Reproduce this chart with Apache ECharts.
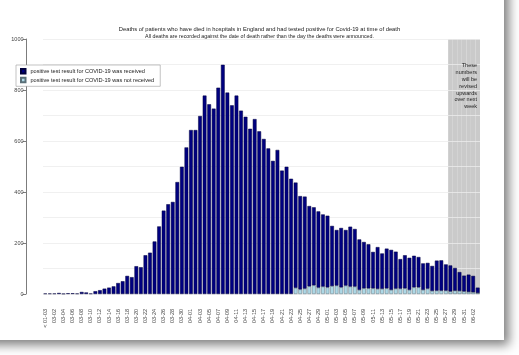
<!DOCTYPE html>
<html>
<head>
<meta charset="utf-8">
<script src="https://cdn.jsdelivr.net/npm/echarts@6/dist/echarts.min.js"></script>
<style>
html,body{margin:0;padding:0;background:#fff;}
#chart{width:519px;height:355px;}
</style>
</head>
<body>
<div id="chart"></div>
<script>
const titleText = 'Deaths of patients who have died in hospitals in England and had tested positive for Covid-19 at time of death';
const subtitleText = 'All deaths are recorded against the date of death rather than the day the deaths were announced.';
const seriesNames = ['positive test result for COVID-19 was received', 'positive test result for COVID-19 was not received'];
const noteLines = ['These', 'numbers', 'will be', 'revised', 'upwards', 'over next', 'week'];
const yTicks = [0, 200, 400, 600, 800, 1000];
const shadeFrom = '05-28';

const categories = ['< 01-03',
'03-01','03-02','03-03','03-04','03-05','03-06','03-07','03-08','03-09','03-10',
'03-11','03-12','03-13','03-14','03-15','03-16','03-17','03-18','03-19','03-20',
'03-21','03-22','03-23','03-24','03-25','03-26','03-27','03-28','03-29','03-30','03-31',
'04-01','04-02','04-03','04-04','04-05','04-06','04-07','04-08','04-09','04-10',
'04-11','04-12','04-13','04-14','04-15','04-16','04-17','04-18','04-19','04-20',
'04-21','04-22','04-23','04-24','04-25','04-26','04-27','04-28','04-29','04-30',
'05-01','05-02','05-03','05-04','05-05','05-06','05-07','05-08','05-09','05-10',
'05-11','05-12','05-13','05-14','05-15','05-16','05-17','05-18','05-19','05-20',
'05-21','05-22','05-23','05-24','05-25','05-26','05-27','05-28','05-29','05-30','05-31',
'06-01','06-02','06-03'];

// positive test received (navy)
const received = [
2,2,2,4,1,3,3,2,8,6,2,
11,15,21,25,30,43,50,71,66,109,105,152,162,206,265,327,352,361,439,499,575,
643,643,698,778,744,727,809,899,790,740,778,719,695,648,686,638,608,571,522,565,484,499,452,
413,366,361,315,306,299,283,281,
236,218,233,218,235,226,198,182,173,143,164,139,156,157,145,116,130,126,124,119,104,101,98,118,119,103,
102,89,74,62,68,64,21];

// positive test not received (light blue)
const notReceived = [
null,null,null,null,null,null,null,null,null,null,null,
null,null,null,null,null,null,null,null,null,null,null,null,null,null,null,null,null,null,null,null,null,
null,null,null,null,null,null,null,null,null,null,null,null,null,null,null,null,null,null,null,null,null,null,null,
24,18,21,30,34,25,29,26,
31,33,26,33,29,29,16,22,22,22,20,20,22,16,21,21,22,16,26,26,16,21,12,13,13,13,
10,13,12,10,8,7,4];

const yMax = yTicks[yTicks.length - 1];
const shadeIdx = categories.indexOf(shadeFrom);
const shade = categories.map((c, i) => (i >= shadeIdx ? yMax : null));

const font = 'Liberation Sans, Arial, sans-serif';
const chart = echarts.init(document.getElementById('chart'), null, {renderer: 'canvas'});

chart.setOption({
  animation: false,
  backgroundColor: '#ffffff',
  textStyle: {fontFamily: font},
  graphic: [
    {
      type: 'rect', z: -100, silent: true,
      shape: {x: -20, y: -20, width: 524, height: 360},
      style: {fill: '#ffffff', shadowBlur: 10, shadowColor: 'rgba(0,0,0,0.5)', shadowOffsetX: 5, shadowOffsetY: 5}
    },
    {
      type: 'text', z: 100, silent: true,
      x: 477, y: 62,
      style: {text: noteLines.join('\n'), align: 'right', verticalAlign: 'top', fontSize: 5.5, lineHeight: 6.9, fill: '#222', fontFamily: font}
    }
  ],
  title: [
    {text: titleText, left: 'center', top: 21.5, textStyle: {fontSize: 5.8, fontWeight: 'normal', color: '#222', fontFamily: font}},
    {text: subtitleText, left: 'center', top: 28.8, textStyle: {fontSize: 5.3, fontWeight: 'normal', color: '#222', fontFamily: font}}
  ],
  legend: {
    data: [
      {name: seriesNames[0], icon: 'rect'},
      {name: seriesNames[1], icon: 'rect'}
    ],
    orient: 'vertical',
    left: 16, top: 65,
    itemWidth: 4.5, itemHeight: 4.5, itemGap: 2.3,
    padding: [3, 6, 3, 4],
    borderColor: '#9a9a9a', borderWidth: 0.6,
    backgroundColor: '#ffffff',
    textStyle: {fontSize: 5.6, color: '#222', fontFamily: font}
  },
  grid: {left: 43, right: 39, top: 39, bottom: 61},
  xAxis: [
    {
      type: 'category', data: categories,
      axisLine: {show: false}, axisTick: {show: false},
      axisLabel: {interval: 1, rotate: 90, fontSize: 5.5, color: '#444', margin: 15, fontFamily: font},
      splitLine: {show: false}
    },
    {
      type: 'category', data: categories, show: false, gridIndex: 0
    }
  ],
  yAxis: {
    type: 'value', min: 0, max: yMax, interval: 200, offset: 17,
    axisLine: {show: true, lineStyle: {color: '#444', width: 0.7}},
    axisTick: {show: true, length: 3.5, lineStyle: {color: '#444', width: 0.7}},
    axisLabel: {fontSize: 5.5, color: '#444', margin: 2.5, fontFamily: font, formatter: (v) => String(v)},
    splitLine: {show: true, lineStyle: {color: '#ececec', width: 0.8}},
    minorTick: {show: false, splitNumber: 2},
    minorSplitLine: {show: true, lineStyle: {color: '#ececec', width: 0.8}}
  },
  series: [
    {
      name: 'shade', type: 'bar', xAxisIndex: 1, data: shade,
      barWidth: '100%', silent: true, z: -1,
      itemStyle: {color: '#cacaca'}
    },
    {
      name: seriesNames[1], type: 'bar', stack: 'deaths', data: notReceived,
      barCategoryGap: '18%',
      itemStyle: {color: '#add8e6', borderColor: '#5a6f78', borderWidth: 0.5}
    },
    {
      name: seriesNames[0], type: 'bar', stack: 'deaths', data: received,
      barCategoryGap: '18%',
      itemStyle: {color: '#000080', borderColor: '#00003c', borderWidth: 0.5}
    }
  ]
});
</script>
</body>
</html>
